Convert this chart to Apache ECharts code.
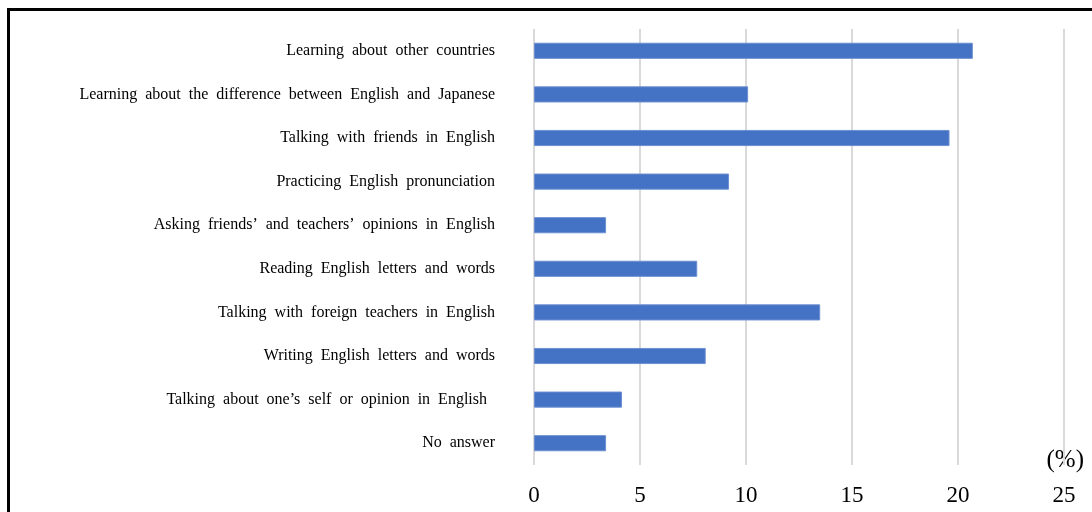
<!DOCTYPE html>
<html>
<head>
<meta charset="utf-8">
<script src="https://cdn.jsdelivr.net/npm/echarts@6/dist/echarts.min.js"></script>
<style>
html,body{margin:0;padding:0;background:#fff;}
#c{width:1092px;height:512px;}
</style>
</head>
<body>
<div id="c"></div>
<script>
const categories = [
  "Learning about other countries",
  "Learning about the difference between English and Japanese",
  "Talking with friends in English",
  "Practicing English pronunciation",
  "Asking friends\u2019 and teachers\u2019 opinions in English",
  "Reading English letters and words",
  "Talking with foreign teachers in English",
  "Writing English letters and words",
  "Talking about one\u2019s self or opinion in English ",
  "No answer"
];
const values = [20.7, 10.1, 19.6, 9.2, 3.4, 7.7, 13.5, 8.1, 4.15, 3.4];
const xTicks = [0, 5, 10, 15, 20, 25];
const unitLabel = "(%)";

const chart = echarts.init(document.getElementById('c'), null, {renderer: 'canvas'});
const serif = '"Liberation Serif", "DejaVu Serif", serif';
chart.setOption({
  animation: false,
  backgroundColor: '#ffffff',
  grid: {left: 534, right: 28, top: 29, bottom: 47, containLabel: false},
  xAxis: {
    type: 'value',
    min: xTicks[0],
    max: xTicks[xTicks.length - 1],
    interval: 5,
    axisLine: {show: false},
    axisTick: {show: false},
    splitLine: {show: true, lineStyle: {color: '#D9D9D9', width: 2}},
    axisLabel: {
      margin: 19,
      fontFamily: serif,
      fontSize: 23,
      color: '#000',
      formatter: v => String(v)
    }
  },
  yAxis: {
    type: 'category',
    data: categories,
    inverse: true,
    axisLine: {show: false},
    axisTick: {show: false},
    splitLine: {show: false},
    axisLabel: {
      margin: 39,
      fontFamily: serif,
      fontSize: 16,
      color: '#000',
      formatter: s => s.replace(/ /g, '\u2002')
    }
  },
  series: [{
    type: 'bar',
    data: values,
    barWidth: '37%',
    itemStyle: {color: '#4472C4', borderColor: '#6D8FD0', borderWidth: 1},
    silent: true
  }],
  graphic: [
    {
      type: 'text',
      right: 8,
      top: 448,
      style: {text: unitLabel, font: '25px ' + serif, fill: '#000'}
    },
    {
      type: 'rect',
      shape: {x: 8.5, y: 9.5, width: 1200, height: 600},
      style: {fill: 'none', stroke: '#000', lineWidth: 3},
      silent: true
    }
  ]
});
</script>
</body>
</html>
